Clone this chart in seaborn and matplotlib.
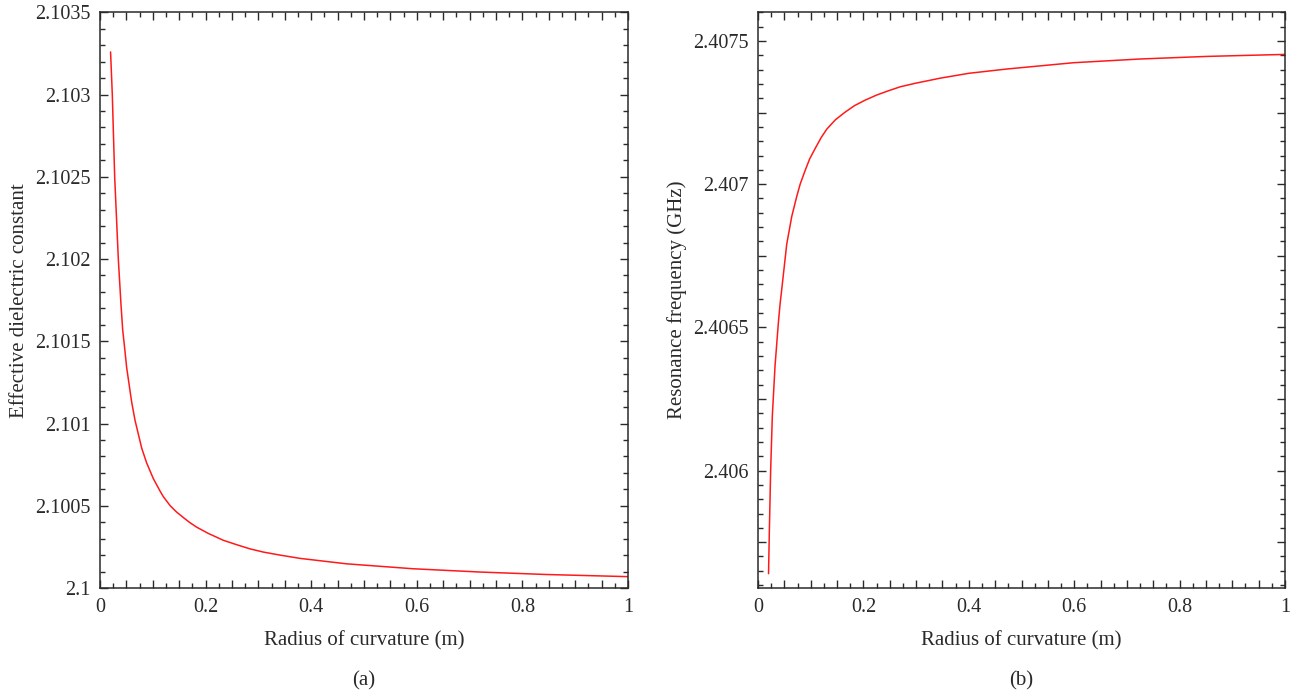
import numpy as np
import pandas as pd
import matplotlib
matplotlib.use("Agg")
import matplotlib.pyplot as plt
from matplotlib.ticker import MultipleLocator, FuncFormatter
import seaborn as sns

# Effective dielectric constant vs radius of curvature
radius_a = [0.02, 0.0233, 0.0278, 0.0347, 0.0398, 0.043, 0.046, 0.0505, 0.06,
            0.0663, 0.079, 0.0884, 0.101, 0.1136, 0.12, 0.133, 0.145, 0.158,
            0.17, 0.183, 0.205, 0.2336, 0.26, 0.284, 0.31, 0.341, 0.379, 0.467,
            0.593, 0.72, 0.846, 1.0]
eps_eff = [2.103259, 2.10300, 2.10250, 2.10200, 2.101720, 2.101568, 2.10148,
           2.101340, 2.101130, 2.10102, 2.100850, 2.100760, 2.100665, 2.100590,
           2.100555, 2.10050, 2.100462, 2.100428, 2.100398, 2.100370, 2.100332,
           2.100290, 2.100262, 2.100238, 2.100218, 2.100200, 2.100180, 2.100147,
           2.100117, 2.100097, 2.100082, 2.100069]

# Resonance frequency vs radius of curvature
radius_b = [0.02, 0.0215, 0.024, 0.0272, 0.0323, 0.0386, 0.0418, 0.045, 0.0545,
            0.064, 0.0735, 0.08, 0.0893, 0.098, 0.108, 0.12, 0.1305, 0.147,
            0.165, 0.183, 0.203, 0.225, 0.2475, 0.27, 0.298, 0.3457, 0.40,
            0.4723, 0.599, 0.7255, 0.852, 1.0]
freq_ghz = [2.405640, 2.405785, 2.406000, 2.406191, 2.406365, 2.406515, 2.406580,
            2.406632, 2.406790, 2.406887, 2.406957, 2.407000, 2.407047, 2.407088,
            2.407123, 2.407163, 2.407192, 2.407225, 2.407251, 2.407274, 2.407293,
            2.407311, 2.407326, 2.407340, 2.407352, 2.407370, 2.407387, 2.407402,
            2.407424, 2.407437, 2.407446, 2.407453]

xlabel = "Radius of curvature (m)"
ylabel_a = "Effective dielectric constant"
ylabel_b = "Resonance frequency (GHz)"
panel_tags = ["(a)", "(b)"]

sns.set_theme(style="ticks")
plt.rcParams["font.family"] = ["Liberation Serif", "DejaVu Serif"]
plt.rcParams["text.color"] = "#2a2a2a"

ink = "#2a2a2a"

fig = plt.figure(figsize=(12.99, 6.95), dpi=100)
ax_a = fig.add_axes([100 / 1299, 1 - 588 / 695, 528 / 1299, 575.7 / 695])
ax_b = fig.add_axes([758 / 1299, 1 - 588 / 695, 527 / 1299, 575.7 / 695])


def trim(v, step):
    v = round(v / step) * step
    s = f"{v:.4f}".rstrip("0").rstrip(".")
    return s


def style(ax, ymin, ymax, ymaj_step, ylab_step, yminor, ylab):
    ax.set_xlim(0, 1)
    ax.set_ylim(ymin, ymax)
    ax.xaxis.set_major_locator(MultipleLocator(0.05))
    ax.xaxis.set_minor_locator(MultipleLocator(0.025))
    ax.xaxis.set_major_formatter(FuncFormatter(
        lambda v, p: trim(v, 0.05) if abs(v / 0.2 - round(v / 0.2)) < 1e-6 else ""))
    ax.yaxis.set_major_locator(MultipleLocator(ymaj_step))
    ax.yaxis.set_minor_locator(MultipleLocator(yminor))
    ax.yaxis.set_major_formatter(FuncFormatter(
        lambda v, p: trim(v, ymaj_step)
        if abs(v / ylab_step - round(v / ylab_step)) < 1e-4 else ""))
    ax.tick_params(which="both", direction="in", top=True, right=True,
                   color=ink, width=1.0, labelsize=14.5, labelcolor=ink, pad=7)
    ax.tick_params(which="major", length=6)
    ax.tick_params(which="minor", length=3.5)
    for sp in ax.spines.values():
        sp.set_color(ink)
        sp.set_linewidth(1.1)
    ax.set_xlabel(xlabel, fontsize=15, color=ink, labelpad=10)
    ax.set_ylabel(ylab, fontsize=15, color=ink, labelpad=4)


df_a = pd.DataFrame({"r": radius_a, "eps": eps_eff})
df_b = pd.DataFrame({"r": radius_b, "f": freq_ghz})

sns.lineplot(data=df_a, x="r", y="eps", ax=ax_a, color="#ff1a1a", lw=1.1)
sns.lineplot(data=df_b, x="r", y="f", ax=ax_b, color="#ff1a1a", lw=1.1)

style(ax_a, 2.1, 2.1035, 0.0005, 0.0005, 0.0001, ylabel_a)
style(ax_b, 2.40559, 2.40760, 0.00025, 0.0005, 0.00005, ylabel_b)

fig.text((100 + 628) / 2 / 1299, 1 - 681 / 695, panel_tags[0],
         ha="center", va="center", fontsize=15, color=ink)
fig.text((758 + 1285) / 2 / 1299, 1 - 681 / 695, panel_tags[1],
         ha="center", va="center", fontsize=15, color=ink)

fig.savefig("out.png", dpi=100, facecolor="white")
